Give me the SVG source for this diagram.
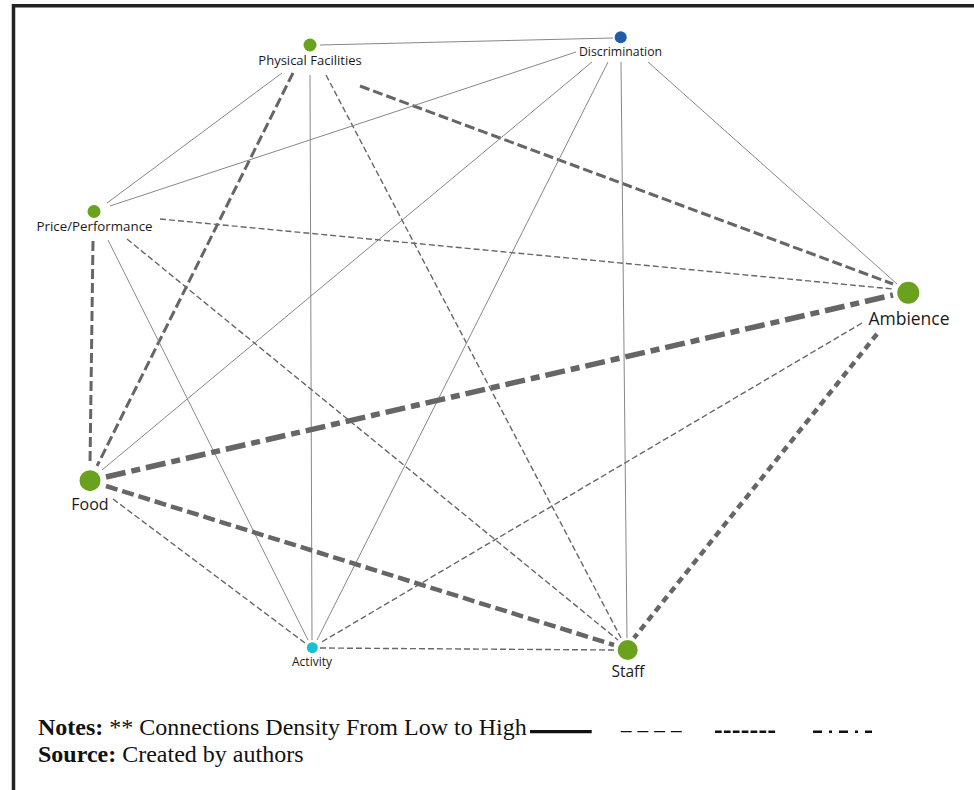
<svg xmlns="http://www.w3.org/2000/svg" width="974" height="790" viewBox="0 0 974 790">
<style>
.bg{fill:#fff}
.frame{stroke:#222;stroke-width:3.5;fill:none}
.lbl{font-family:"Open Sans","Noto Sans",sans-serif;fill:#1a1a1a;text-anchor:middle}
.green{fill:#6aa220}
.e1{stroke:#878787;stroke-width:1;fill:none}
.e2{stroke:#676767;stroke-width:1.4;stroke-dasharray:6 3;fill:none}
.e3{stroke:#666;stroke-width:3;stroke-dasharray:10 4;fill:none}
.e4{stroke:#666;stroke-width:4.5;stroke-dasharray:12 5;fill:none}
.e5{stroke:#666;stroke-width:4.5;stroke-dasharray:7 5;fill:none}
.e6{stroke:#666;stroke-width:5.5;stroke-dasharray:20 6 9 6;fill:none}
.note{font-family:"Liberation Serif","Times New Roman",serif;font-size:24px;fill:#111}
.leg{stroke:#111;fill:none}
</style>
<rect class="bg" x="0" y="0" width="974" height="790"/>
<path class="frame" d="M13.5 790 V5.7 H974"/>
<g id="connectors">
<line class="e1" x1="320" y1="45" x2="613" y2="38"/>
<line class="e1" x1="282" y1="73" x2="107" y2="203"/>
<line class="e3" x1="293" y1="73" x2="97" y2="466"/>
<line class="e1" x1="310" y1="75" x2="312" y2="640"/>
<line class="e2" x1="326" y1="75" x2="621" y2="638"/>
<line class="e3" x1="360" y1="86" x2="893" y2="284"/>
<line class="e1" x1="576" y1="52" x2="110" y2="206"/>
<line class="e1" x1="592" y1="62" x2="102" y2="470"/>
<line class="e1" x1="608" y1="62" x2="317" y2="640"/>
<line class="e1" x1="621" y1="62" x2="627" y2="638"/>
<line class="e1" x1="648" y1="62" x2="897" y2="284"/>
<line class="e2" x1="160" y1="219" x2="893" y2="289"/>
<line class="e3" x1="93" y1="241" x2="90" y2="465"/>
<line class="e1" x1="108" y1="240" x2="308" y2="640"/>
<line class="e2" x1="127" y1="239" x2="618" y2="640"/>
<line class="e6" x1="106" y1="477" x2="893" y2="295"/>
<line class="e2" x1="862" y1="323" x2="320" y2="643"/>
<line class="e5" x1="877" y1="334" x2="634" y2="638"/>
<line class="e4" x1="106" y1="486" x2="614" y2="645"/>
<line class="e2" x1="113" y1="499" x2="305" y2="643"/>
<line class="e2" x1="320" y1="648" x2="614" y2="650"/>
</g>
<g id="physical-facilities">
<circle class="green" cx="310" cy="45" r="6.5"/>
<text class="lbl" x="310" y="65" font-size="13">Physical Facilities</text>
</g>
<g id="discrimination">
<circle cx="620.7" cy="37.3" r="6" fill="#1f5ea6"/>
<text class="lbl" x="620.5" y="56" font-size="12.3">Discrimination</text>
</g>
<g id="price-performance">
<circle class="green" cx="94" cy="211.5" r="6.5"/>
<text class="lbl" x="94.5" y="231" font-size="13.3">Price/Performance</text>
</g>
<g id="ambience">
<circle class="green" cx="908.3" cy="292.7" r="11"/>
<text class="lbl" x="909" y="325" font-size="17.5">Ambience</text>
</g>
<g id="food">
<circle class="green" cx="90" cy="480.7" r="10.5"/>
<text class="lbl" x="90" y="510" font-size="16">Food</text>
</g>
<g id="activity">
<circle cx="312.3" cy="647.7" r="5.5" fill="#16c1d4"/>
<text class="lbl" x="312" y="666" font-size="12">Activity</text>
</g>
<g id="staff">
<circle class="green" cx="627.7" cy="650" r="10"/>
<text class="lbl" x="628" y="677" font-size="15.5">Staff</text>
</g>
<g id="legend">
<text class="note" x="38" y="735"><tspan font-weight="bold">Notes:</tspan> ** Connections Density From Low to High</text>
<text class="note" x="38" y="762"><tspan font-weight="bold">Source:</tspan> Created by authors</text>
<line class="leg" x1="530" y1="731.7" x2="591.7" y2="731.7" stroke-width="3.3"/>
<line class="leg" x1="620.7" y1="731.7" x2="682.7" y2="731.7" stroke-width="1.3" stroke-dasharray="11 5.7"/>
<line class="leg" x1="715" y1="731.7" x2="777" y2="731.7" stroke-width="2.6" stroke-dasharray="6.7 2.2"/>
<line class="leg" x1="813" y1="731.7" x2="872" y2="731.7" stroke-width="2.6" stroke-dasharray="9 7 3 7"/>
</g>
</svg>
